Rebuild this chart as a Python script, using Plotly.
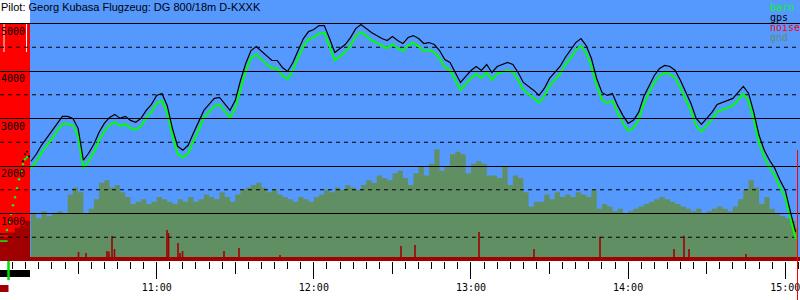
import plotly.graph_objects as go
import pandas as pd

DAY = "2021-06-20 "

title_text = "Pilot: Georg Kubasa Flugzeug: DG 800/18m D-KXXK"
legend_labels = ["baro", "gps", "noise", "gnd"]
y_labels = [1000, 2000, 3000, 4000, 5000]
solid_levels = [1000, 2000, 3000, 4000, 5000]
dashed_levels = [500, 1500, 2500, 3500, 4500]

view_start = "10:00:10"
view_end = "15:05:38"

# main flight, every 2 minutes from 10:12
series_start = "10:12"
gps_alt = [2100, 2247, 2436, 2583, 2730, 2898, 3045, 3045, 3003, 2793, 2121, 2268, 2457, 2709, 2898,
           3024, 3087, 3003, 3045, 2961, 2919, 3003, 3171, 3297, 3486, 3528, 3276, 2793, 2415, 2331,
           2436, 2688, 2919, 3171, 3297, 3423, 3444, 3297, 3171, 3381, 3801, 4158, 4431, 4515, 4410,
           4305, 4221, 4221, 4074, 3990, 4179, 4431, 4683, 4830, 4872, 4956, 4956, 4683, 4389, 4473,
           4557, 4704, 4893, 4977, 4893, 4809, 4746, 4683, 4641, 4725, 4641, 4578, 4704, 4746, 4683,
           4578, 4599, 4557, 4431, 4242, 4179, 3969, 3759, 3885, 4011, 4095, 4011, 4137, 3969, 4095,
           4137, 4179, 4137, 3969, 3759, 3675, 3591, 3486, 3633, 3843, 3969, 4095, 4284, 4431, 4599,
           4683, 4536, 4263, 3843, 3549, 3486, 3528, 3276, 3066, 2898, 2961, 3129, 3465, 3696, 3906,
           4053, 4116, 4095, 4011, 3801, 3549, 3318, 3003, 2877, 3003, 3129, 3297, 3339, 3381, 3423,
           3549, 3675, 3528, 3129, 2646, 2331, 2121, 1953, 1701, 1491, 1029, 609]
baro_alt = [1950, 2090, 2280, 2420, 2570, 2740, 2880, 2890, 2850, 2630, 1950, 2100, 2290, 2540, 2730,
            2860, 2920, 2850, 2880, 2800, 2760, 2840, 3010, 3140, 3320, 3370, 3120, 2640, 2250, 2180,
            2270, 2520, 2760, 3010, 3140, 3260, 3290, 3140, 3010, 3220, 3640, 4000, 4270, 4350, 4250,
            4140, 4060, 4060, 3910, 3830, 4020, 4270, 4520, 4670, 4710, 4790, 4800, 4520, 4230, 4310,
            4400, 4540, 4730, 4820, 4740, 4650, 4590, 4530, 4480, 4570, 4480, 4420, 4540, 4590, 4520,
            4420, 4440, 4400, 4270, 4080, 4020, 3810, 3600, 3730, 3850, 3940, 3850, 3980, 3810, 3940,
            3980, 4020, 3980, 3810, 3600, 3520, 3430, 3330, 3470, 3690, 3810, 3940, 4130, 4270, 4440,
            4530, 4380, 4100, 3690, 3390, 3330, 3370, 3120, 2910, 2740, 2800, 2970, 3310, 3540, 3750,
            3900, 3960, 3940, 3850, 3640, 3390, 3160, 2850, 2720, 2850, 2970, 3140, 3180, 3220, 3270,
            3390, 3520, 3370, 2970, 2490, 2180, 1970, 1800, 1550, 1340, 880, 470]
gnd_alt = [1000, 900, 1050, 950, 1000, 1050, 1000, 1400, 1550, 1450, 1000, 1100, 1300, 1650, 1700,
           1550, 1600, 1450, 1350, 1200, 1250, 1300, 1200, 1250, 1350, 1300, 1250, 1200, 1300, 1250,
           1350, 1250, 1300, 1400, 1350, 1300, 1450, 1350, 1250, 1400, 1500, 1550, 1600, 1650, 1550,
           1450, 1500, 1400, 1350, 1300, 1250, 1350, 1300, 1250, 1350, 1400, 1500, 1450, 1550, 1500,
           1600, 1550, 1500, 1600, 1700, 1650, 1800, 1750, 1700, 1850, 1900, 1750, 1600, 1850, 2000,
           1800, 2050, 2350, 1900, 2000, 2250, 2300, 2250, 1850, 2050, 2100, 2050, 1800, 1800, 1750,
           2000, 1600, 1800, 1750, 1450, 1150, 1250, 1250, 1400, 1300, 1450, 1350, 1400, 1350, 1450,
           1400, 1350, 1500, 1100, 1200, 1150, 1050, 1100, 1000, 1050, 1100, 1150, 1200, 1250, 1300,
           1350, 1300, 1250, 1200, 1150, 1100, 1050, 1100, 1000, 1050, 1100, 1150, 1100, 1050, 1150,
           1300, 1500, 1700, 1550, 1200, 1350, 1100, 1000, 950, 900, 850, 700]

# before launch / during aerotow
ground_times = ["10:00:10", "10:03:05"]
gps_ground = [567, 567]
baro_ground = [420, 420]
tow_times = ["10:02:51", "10:03:37", "10:04:22", "10:05:08", "10:05:54", "10:06:40",
             "10:07:26", "10:08:11", "10:08:57", "10:09:43", "10:10:29"]
baro_tow = [651, 819, 987, 1176, 1344, 1533, 1722, 1890, 2037, 2142, 2184]
gps_tow_times = ["10:08:57", "10:09:43", "10:10:29", "10:11:15"]
gps_tow = [2100, 2250, 2300, 2200]

tow_noise_times = ["10:00:10", "10:01:31", "10:01:53", "10:10:06", "10:10:29", "10:11:38"]
tow_noise = [5000, 4400, 5000, 4400, 5000, 5000]
gnd_tow_times = ["10:00:10", "10:03:05", "10:05:48", "10:07:43", "10:09:37", "10:11:38"]
gnd_tow = [500, 600, 700, 750, 850, 850]

noise_floor = 85
noise_spike_times = ["10:30:09", "10:33:00", "10:41:00", "10:41:46", "10:42:56", "10:43:53",
                     "11:03:56", "11:04:31", "11:08:08", "11:08:54", "11:09:52", "11:25:42",
                     "11:31:26", "11:47:05", "12:33:17", "12:38:38", "13:03:04", "13:24:04",
                     "13:49:16", "14:17:31", "14:21:20", "14:23:15", "14:45:01"]
noise_spike_vals = [189, 168, 210, 200, 525, 252, 651, 588, 378, 168, 210, 210,
                    273, 126, 315, 336, 613, 252, 510, 252, 530, 252, 147]

launch_time = "10:03:25"
tow_end = "10:11:38"
landing_time = "15:04:41"

# colours
BLUE = "#5599FF"
RED = "#FF0000"
DARKRED = "#A00000"
OLIVE = "#608F64"
GREEN = "#00FF00"


def T(s):
    return pd.to_datetime(DAY + s)


t0, t1 = T(view_start), T(view_end)
main_times = pd.date_range(T(series_start), periods=len(gps_alt), freq="2min")

PLOT_H = 261
PX_PER_M = 0.0475

fig = go.Figure()

# engine / tow noise (bright red)
fig.add_trace(go.Scatter(x=[T(s) for s in tow_noise_times], y=tow_noise, mode="lines",
                         line=dict(width=0, shape="hv"), fill="tozeroy", fillcolor=RED,
                         hoverinfo="skip", showlegend=False))
# ground under tow
fig.add_trace(go.Scatter(x=[T(s) for s in gnd_tow_times], y=gnd_tow, mode="lines",
                         line=dict(width=0, shape="hv"), fill="tozeroy", fillcolor=DARKRED,
                         hoverinfo="skip", showlegend=False))
# ground
fig.add_trace(go.Scatter(x=list(main_times) + [T(landing_time)], y=gnd_alt + [gnd_alt[-1]],
                         mode="lines", line=dict(width=0, shape="hv"), fill="tozeroy",
                         fillcolor=OLIVE, hoverinfo="skip", showlegend=False))
# noise floor
fig.add_trace(go.Scatter(x=[t0, t1], y=[noise_floor, noise_floor], mode="lines",
                         line=dict(width=0), fill="tozeroy", fillcolor=DARKRED,
                         hoverinfo="skip", showlegend=False))
# noise spikes
sx, sy = [], []
for t, v in zip(noise_spike_times, noise_spike_vals):
    sx += [T(t), T(t), None]
    sy += [0, v, None]
fig.add_trace(go.Scatter(x=sx, y=sy, mode="lines", line=dict(color=DARKRED, width=1.6),
                         hoverinfo="skip", showlegend=False))
# dashed grid lines
for v in dashed_levels:
    fig.add_trace(go.Scatter(x=[t0, t1], y=[v, v], mode="lines",
                             line=dict(color="black", width=1, dash="4px,4px"),
                             hoverinfo="skip", showlegend=False))
# baro
fig.add_trace(go.Scatter(x=[T(s) for s in ground_times], y=baro_ground, mode="lines",
                         line=dict(color=GREEN, width=1.5), showlegend=False))
fig.add_trace(go.Scatter(x=[T(s) for s in tow_times], y=baro_tow, mode="markers",
                         marker=dict(color=GREEN, size=2.5), showlegend=False))
fig.add_trace(go.Scatter(x=main_times, y=baro_alt, mode="lines",
                         line=dict(color=GREEN, width=2), showlegend=False))
# gps
fig.add_trace(go.Scatter(x=[T(s) for s in ground_times], y=gps_ground, mode="lines",
                         line=dict(color="black", width=1.3), showlegend=False))
fig.add_trace(go.Scatter(x=[T(s) for s in gps_tow_times], y=gps_tow, mode="markers",
                         marker=dict(color="black", size=2), showlegend=False))
fig.add_trace(go.Scatter(x=main_times, y=gps_alt, mode="lines",
                         line=dict(color="black", width=1.2), showlegend=False))
# dummy on hour axis
fig.add_trace(go.Scatter(x=[t0, t1], y=[-500, -500], xaxis="x2", mode="markers",
                         marker=dict(opacity=0), hoverinfo="skip", showlegend=False))


def py(pix):
    return (PLOT_H - pix) / PLOT_H


shapes = [
    dict(type="rect", xref="x", yref="paper", x0=t0, x1=T(tow_end), y0=0, y1=1,
         fillcolor="white", line=dict(width=0), layer="below"),
    dict(type="rect", xref="x", yref="paper", x0=t0, x1=T(tow_end), y0=py(270), y1=py(277),
         fillcolor="black", line=dict(width=0)),
    dict(type="line", xref="x", yref="paper", x0=T(launch_time), x1=T(launch_time),
         y0=py(261), y1=py(280), line=dict(color="#00DD00", width=2.5)),
    dict(type="rect", xref="x", yref="paper", x0=t0, x1=T(launch_time), y0=py(285), y1=py(292),
         fillcolor=DARKRED, line=dict(width=0)),
    dict(type="line", xref="x", yref="paper", x0=T(landing_time), x1=T(landing_time),
         y0=py(300), y1=py(150), line=dict(color=RED, width=1)),
]

MONO = "DejaVu Sans Mono"
annotations = [dict(text=title_text, xref="paper", yref="paper", x=0, y=1, xanchor="left",
                    yanchor="top", showarrow=False, borderpad=0,
                    font=dict(family="Liberation Sans, Arial", size=11, color="black"))]
leg_colors = [GREEN, "black", RED, OLIVE]
for i, (lab, col) in enumerate(zip(legend_labels, leg_colors)):
    annotations.append(dict(text=lab, xref="paper", yref="paper", x=769 / 800,
                            y=py(1 + 10 * i), xanchor="left", yanchor="top", showarrow=False,
                            borderpad=0, font=dict(family=MONO, size=10, color=col)))
for v in y_labels:
    annotations.append(dict(text=str(v), xref="paper", yref="y", x=0, y=v, xanchor="left",
                            yanchor="top", showarrow=False, borderpad=0, yshift=-1,
                            font=dict(family=MONO, size=10, color="black")))

fig.update_layout(
    width=800, height=300, margin=dict(l=0, r=0, t=0, b=300 - PLOT_H),
    plot_bgcolor=BLUE, paper_bgcolor="white",
    xaxis=dict(type="date", range=[t0, t1], showgrid=False, zeroline=False,
               ticks="outside", ticklen=12, tickwidth=1, tickcolor="black",
               tick0=DAY + "10:00", dtick=30 * 60 * 1000, showticklabels=False,
               minor=dict(ticks="outside", ticklen=7, tickcolor="black", tickwidth=1,
                          dtick=5 * 60 * 1000, tick0=DAY + "10:00", showgrid=False)),
    xaxis2=dict(type="date", overlaying="x", matches="x", side="bottom", anchor="y",
                showgrid=False, zeroline=False, ticks="outside", ticklen=17, tickwidth=1,
                tickcolor="black", tick0=DAY + "10:00", dtick=60 * 60 * 1000,
                tickformat="%H:%M", ticklabeloverflow="allow",
                tickfont=dict(family=MONO, size=10, color="black")),
    # solid horizontal rules drawn as full-width inside ticks (crisp, above traces)
    yaxis=dict(range=[0, PLOT_H / PX_PER_M], showgrid=False, zeroline=False,
               showticklabels=False, ticks="inside", ticklen=800, tickwidth=1,
               tickcolor="black", tickvals=solid_levels, layer="above traces"),
    shapes=shapes, annotations=annotations, showlegend=False,
)

fig.write_html("out.html")
